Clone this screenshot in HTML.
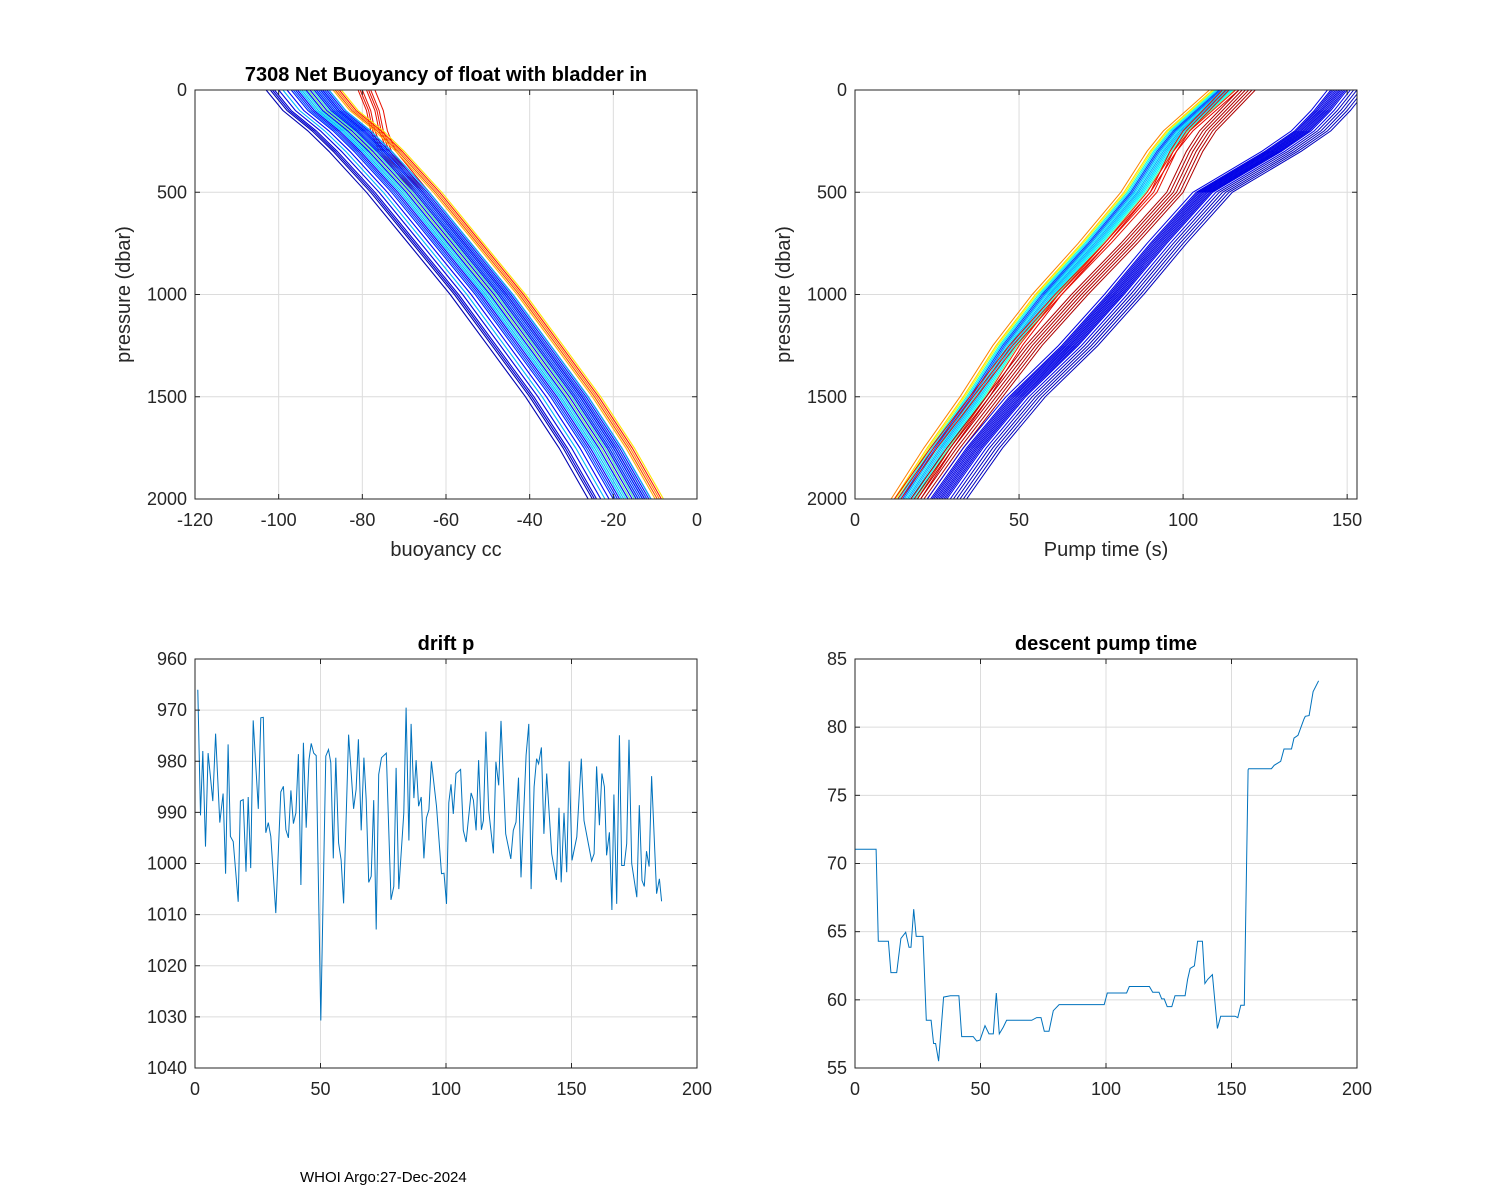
<!DOCTYPE html>
<html><head><meta charset="utf-8"><style>
body{margin:0;background:#fff;}
svg{display:block;font-family:"Liberation Sans",Arial,sans-serif;}
</style></head>
<body>
<svg id="fig" width="1500" height="1200" viewBox="0 0 1500 1200">
<rect width="1500" height="1200" fill="#fff"/>
<text x="300" y="1182" font-size="15">WHOI Argo:27-Dec-2024</text>
</svg>
<script>
// ---- data ----
const profP = [0,100,200,300,500,750,1000,1250,1500,1750,2000];
const buoyMain = [-92,-88,-82,-77,-68,-58,-48,-39,-30,-22,-15];
const buoyRedTop = [-79,-77,-76,-74,-66,-56,-46,-37,-28,-20,-13];
const buoyOffsets = [-11,-10,-9.5,-9,-8,-7,-6,-5,-4.5,-4,-3.5,-3,-2.5,-2,-1.5,-1,-0.5,0,0.5,1,1.5,2,2.5,3,3.5,4,-3,-2,-1,0,1,2,3,-1.5,0.5,2.5,1,2,4,5,5.5,6,6.5,7];
const buoyColors = [0.05,0.05,0.08,0.08,0.1,0.3,0.12,0.15,0.2,0.15,0.12,0.14,0.3,0.15,0.2,0.14,0.12,0.15,0.16,0.14,0.18,0.12,0.2,0.15,0.14,0.13,0.35,0.4,0.5,0.45,0.33,0.38,0.2,0.15,0.16,0.14,0.17,0.15,0.3,0.7,0.8,0.75,0.85,0.65];
const buoyRedOffsets = [-2,-1,0,1,2,-1.5,0.5];

const pumpMain = [112,105,98,93,85,72,58,46,36,25,15];
const pumpMainOffsets = [-4,-3,-2.5,-2,-1.5,-1,-0.5,0,0.5,1,1.5,2,2.5,3,3.5,4,-3,-1,1,3,-2,0,2,4,5];
const pumpMainColors = [0.75,0.7,0.6,0.4,0.35,0.3,0.2,0.25,0.35,0.4,0.3,0.25,0.35,0.4,0.45,0.5,0.65,0.2,0.3,0.38,0.4,0.3,0.35,0.85,0.9];
const pumpRed = [120,114,108,104,98,84,69,55,43,31,20];
const pumpRedOffsets = [-3,-2,-1,0,1,2,-8,-7,-6];
const pumpBlue = [148,143,137,128,107,93,80,66,50,37,26];
const pumpBlueOffsets = [-4,-3,-2.5,-2,-1.5,-1,-0.5,0,0.5,1,1.5,2,3,4,5,6,7,8];

const driftX = [1.1,2.2,3.1,4.2,5.2,7.1,8.2,9.9,11.2,12.2,13.2,14.1,15.2,17.2,18.1,19.2,20.3,21.2,22.2,23.2,25.2,26.2,27.2,28.2,29.2,30.2,32.2,34.2,35.2,36.2,37.2,38.2,39.2,40.2,41.2,42.2,43.2,44.3,45.4,46.3,47.3,48.3,50.1,52.1,53.2,54.1,55.1,56.1,57.2,58.2,59.2,61.2,63.2,64.2,65.1,66.2,67.3,68.2,69.2,70.2,71.2,72.2,73.2,74.3,76.2,78.1,79.2,80.1,81.2,83.2,84.1,85.2,86.1,87.2,88.1,89.1,90.1,91.2,92.2,93.2,94.2,96.2,98.2,99.2,100.2,101.1,102,102.9,104,105.8,106.9,108,110,110.9,112,113,114.1,114.9,115.9,117,118.9,119.9,121,121.9,123.8,125.8,126.8,127.9,128.9,129.9,131.9,133,133.9,135.1,136.1,136.9,138,139,140.1,142.1,144,145,145.9,147,148.1,149.1,150.2,152.1,153.9,155,158,159,160,161.1,162.1,163.1,164,165.1,166.1,166.9,168,169.1,170,171,172,172.9,174,176,177,178.1,179,179.9,180.9,181.9,183.9,185,185.9];
const driftP = [966,990.6,978,996.7,978.4,987.8,974.6,992,986.3,1002,976.7,994.7,995.7,1007.5,987.8,987.5,1001.6,987,1000.9,972,989.3,971.5,971.4,994,992,994.7,1009.7,986,984.9,993.4,995,985.7,992.2,990.1,978.6,1004.2,976.4,993,979.7,976.5,978.4,978.9,1030.7,979,977.7,980.3,999,979.3,996,999.3,1007.8,974.8,989.3,985.5,975.7,993.5,979.3,987.5,1003.7,1002.5,987.6,1012.9,982.6,979.3,978.4,1007.1,1004.5,981.3,1005,990.1,969.5,995.5,972.7,987.2,979.8,988.8,987,999,991.1,989.5,980,988.8,1002,1001.9,1007.9,988.1,984.5,990.3,982.4,981.6,993.5,995.8,986.2,987.6,993.5,979.8,993.4,991.6,974.2,989.6,998,980.1,984.7,972.1,994.2,999.1,993.5,991.9,983.2,1002.7,978.8,972.7,1005,985,979.5,980.5,977.3,994.2,982.4,998.1,1003.2,989.1,1003.7,990.1,1001.7,980,999.4,994.8,979.5,991.6,999.5,998.1,981,992.5,982.4,985,998.4,993.9,1009.1,986.5,1007.9,974.9,1000.4,1000.4,996.1,975.8,1000,1006.6,988.6,1003.3,1004.5,997.6,1000.6,982.9,1005.9,1003,1007.4];

const pumpX = [0,8.4,9.3,13.3,14.3,16.6,18.3,20.2,21.5,22.3,23.4,24.4,27.1,28.4,30.3,31.3,32.1,33.3,35.3,38,41.4,42.5,47.1,48.5,49.8,51.8,53.4,55.1,56.3,57.5,59.1,60.4,70.4,72.4,74.1,75.4,77.3,79,81.3,99.3,100.5,108.2,109.3,117.3,118.6,121.1,122.2,123.2,124.4,126.2,127.5,131.5,132.5,133.5,135.2,136.5,138.4,139.4,140.5,142.4,144.4,145.7,151.4,152.5,153.7,155.1,156.6,156.8,165.9,167,169.6,170.9,173.9,174.9,176.5,178.9,179.4,180.9,182.5,184.7];
const pumpT = [71.05,71.05,64.3,64.3,62,62,64.5,64.95,63.85,63.85,66.65,64.65,64.65,58.5,58.5,56.8,56.8,55.5,60.2,60.3,60.3,57.3,57.3,56.98,57.05,58.1,57.5,57.5,60.5,57.5,58,58.5,58.5,58.7,58.7,57.7,57.7,59.2,59.65,59.65,60.5,60.5,60.98,60.98,60.56,60.56,60.07,60.07,59.5,59.5,60.3,60.3,61.5,62.3,62.5,64.3,64.3,61.2,61.5,61.85,57.9,58.8,58.8,58.7,59.6,59.6,76.87,76.95,76.95,77.2,77.5,78.4,78.4,79.2,79.4,80.6,80.8,80.85,82.6,83.4];

const ticksBuoy = [-120,-100,-80,-60,-40,-20,0];
const ticksPres = [0,500,1000,1500,2000];
const ticksPump = [0,50,100,150];
const ticksIdx = [0,50,100,150,200];
const ticksDrift = [960,970,980,990,1000,1010,1020,1030,1040];
const ticksPumpT = [55,60,65,70,75,80,85];

// ---- helpers ----
const NS = "http://www.w3.org/2000/svg";
const svg = document.getElementById('fig');
function mk(tag, attrs, parent){
  const e = document.createElementNS(NS, tag);
  for (const k in attrs) e.setAttribute(k, attrs[k]);
  (parent||svg).appendChild(e);
  return e;
}
function jet(v){
  const r = Math.max(0,Math.min(1,1.5-Math.abs(4*v-3)));
  const g = Math.max(0,Math.min(1,1.5-Math.abs(4*v-2)));
  const b = Math.max(0,Math.min(1,1.5-Math.abs(4*v-1)));
  return `rgb(${Math.round(r*255)},${Math.round(g*255)},${Math.round(b*255)})`;
}
function lin(d0,d1,r0,r1){ return v => r0 + (v-d0)/(d1-d0)*(r1-r0); }

function axes(name, L, T, R, B, xs, ys, xt, yt){
  const g = mk('g', {});
  
  
  mk('rect', {x:L,y:T,width:R-L,height:B-T,fill:'#fff'}, g);
  xt.forEach(v=>{ const x=xs(v);
    mk('line',{x1:x,x2:x,y1:T,y2:B,stroke:'#dcdcdc','stroke-width':1},g);});
  yt.forEach(v=>{ const y=ys(v);
    mk('line',{x1:L,x2:R,y1:y,y2:y,stroke:'#dcdcdc','stroke-width':1},g);});
  return g;
}
function frame(g, L, T, R, B, xs, ys, xt, yt, xlab, ylab, title, ymid){
  mk('rect',{x:L,y:T,width:R-L,height:B-T,fill:'none',stroke:'#262626','stroke-width':1},g);
  xt.forEach(v=>{ const x=xs(v);
    mk('line',{x1:x,x2:x,y1:B,y2:B-5,stroke:'#262626'},g);
    mk('line',{x1:x,x2:x,y1:T,y2:T+5,stroke:'#262626'},g);
    const t = mk('text',{x:x,y:B+27,'font-size':18,'text-anchor':'middle',fill:'#262626'},g);
    
    
    t.textContent = v;
  });
  yt.forEach(v=>{ const y=ys(v);
    mk('line',{x1:L,x2:L+5,y1:y,y2:y,stroke:'#262626'},g);
    mk('line',{x1:R,x2:R-5,y1:y,y2:y,stroke:'#262626'},g);
    const t = mk('text',{x:L-8,y:y+6,'font-size':18,'text-anchor':'end',fill:'#262626'},g);
    
    
    t.textContent = v;
  });
  if (xlab){ const t=mk('text',{x:(L+R)/2,y:B+57,'font-size':20,'text-anchor':'middle',fill:'#262626'},g);
    
    
    t.textContent=xlab; }
  if (ylab){ const t=mk('text',{x:0,y:0,'font-size':20,'text-anchor':'middle',fill:'#262626',transform:`translate(${L-65},${ymid}) rotate(-90)`},g);
    
    
    t.textContent=ylab; }
  if (title){ const t=mk('text',{x:(L+R)/2,y:T-9,'font-size':20,'font-weight':'bold','text-anchor':'middle',fill:'#000'},g);
    
    
    t.textContent=title; }
}
function pathD(xa, ya, xs, ys){
  return xa.map((v,i)=>(i?'L':'M')+xs(v).toFixed(1)+','+ys(ya[i]).toFixed(1)).join('');
}

// ---- top-left: buoyancy ----
{
  const L=195,T=90,R=697,B=499;
  const xs=lin(-120,0,L,R), ys=lin(0,2000,T,B);
  const g=axes('buoyancy-chart',L,T,R,B,xs,ys,ticksBuoy,ticksPres);
  const cpth=mk('clipPath',{id:'c1'},g);
  mk('rect',{x:L,y:T,width:R-L,height:B-T},cpth);
  const lg=mk('g',{'clip-path':'url(#c1)'},g);
  buoyRedOffsets.forEach(o=>{
    const p=mk('path',{d:pathD(buoyRedTop.map(v=>v+o),profP,xs,ys),fill:'none',stroke:'#e81000','stroke-width':1},lg);
    
    
  });
  buoyOffsets.forEach((o,i)=>{
    const p=mk('path',{d:pathD(buoyMain.map(v=>v+o),profP,xs,ys),fill:'none',stroke:jet(buoyColors[i]),'stroke-width':1.1},lg);
    
    
  });
  frame(g,L,T,R,B,xs,ys,ticksBuoy,ticksPres,'buoyancy cc','pressure (dbar)','7308 Net Buoyancy of float with bladder in',(T+B)/2);
}
// ---- top-right: pump time ----
{
  const L=855,T=90,R=1357,B=499;
  const xs=lin(0,153,L,R), ys=lin(0,2000,T,B);
  const g=axes('pump-time-profile-chart',L,T,R,B,xs,ys,ticksPump,ticksPres);
  const cpth=mk('clipPath',{id:'c2'},g);
  mk('rect',{x:L,y:T,width:R-L,height:B-T},cpth);
  const lg=mk('g',{'clip-path':'url(#c2)'},g);
  pumpMainOffsets.forEach((o,i)=>{
    const p=mk('path',{d:pathD(pumpMain.map(v=>v+o),profP,xs,ys),fill:'none',stroke:jet(pumpMainColors[i]),'stroke-width':1},lg);
    
    
  });
  pumpRedOffsets.forEach(o=>{
    const p=mk('path',{d:pathD(pumpRed.map(v=>v+o),profP,xs,ys),fill:'none',stroke:o<-5?'#e81000':'#b00000','stroke-width':1},lg);
    
    
  });
  pumpBlueOffsets.forEach(o=>{
    const p=mk('path',{d:pathD(pumpBlue.map(v=>v+o),profP,xs,ys),fill:'none',stroke:jet(o>3?0.06:0.1),'stroke-width':1},lg);
    
    
  });
  frame(g,L,T,R,B,xs,ys,ticksPump,ticksPres,'Pump time (s)','pressure (dbar)',null,(T+B)/2);
}
// ---- bottom-left: drift p ----
{
  const L=195,T=659,R=697,B=1068;
  const xs=lin(0,200,L,R), ys=lin(960,1040,T,B);
  const g=axes('drift-pressure-chart',L,T,R,B,xs,ys,ticksIdx,ticksDrift);
  const p=mk('path',{d:pathD(driftX,driftP,xs,ys),fill:'none',stroke:'#0072bd','stroke-width':1},g);
  
  
  frame(g,L,T,R,B,xs,ys,ticksIdx,ticksDrift,null,null,'drift p',(T+B)/2);
}
// ---- bottom-right: descent pump time ----
{
  const L=855,T=659,R=1357,B=1068;
  const xs=lin(0,200,L,R), ys=lin(55,85,B,T);
  const g=axes('descent-pump-time-chart',L,T,R,B,xs,ys,ticksIdx,ticksPumpT);
  const p=mk('path',{d:pathD(pumpX,pumpT,xs,ys),fill:'none',stroke:'#0072bd','stroke-width':1},g);
  
  
  frame(g,L,T,R,B,xs,ys,ticksIdx,ticksPumpT,null,null,'descent pump time',(T+B)/2);
}
</script>
</body></html>
